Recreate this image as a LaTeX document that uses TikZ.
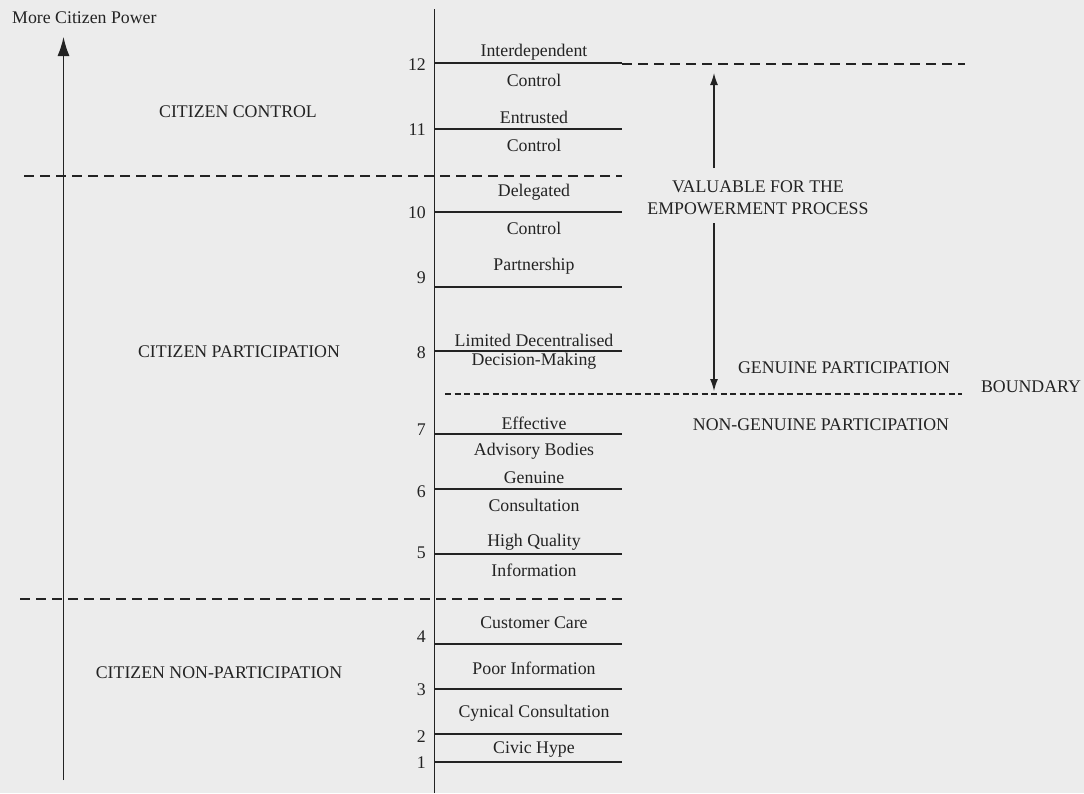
\documentclass[tikz,border=0pt]{standalone}
\usepackage{fontspec}
\setmainfont{Liberation Serif}
\usetikzlibrary{arrows.meta}
\definecolor{bgc}{RGB}{236,236,236}
\definecolor{ink}{RGB}{35,35,35}
\begin{document}
\begin{tikzpicture}[x=1pt,y=-1pt,
  txt/.style={font=\fontsize{17.8}{19}\selectfont, text=ink, inner sep=0pt},
  num/.style={txt, anchor=east},
  rung/.style={draw=ink, line width=1.3pt},
  axis/.style={draw=ink, line width=1.3pt},
  bigdash/.style={draw=ink, line width=1.2pt, dash pattern=on 10pt off 6pt},
  smalldash/.style={draw=ink, line width=1.2pt, dash pattern=on 6pt off 3.5pt},
  bigtip/.style={-{Latex[length=19pt,width=12pt]}},
  smalltip/.style={-{Latex[length=12pt,width=8pt]}}
]
\fill[bgc] (0,0) rectangle (1084,793);
\useasboundingbox (0,0) rectangle (1084,793);

% left axis
\coordinate (la0) at (63.5,780);
\coordinate (la1) at (63.5,37);
\draw[axis, bigtip] (la0) -- (la1);
\node[txt, anchor=west] (mcp) at (12,18) {More Citizen Power};

% central axis
\coordinate (ca0) at (434.5,793);
\coordinate (ca1) at (434.5,9);
\draw[axis] (ca0) -- (ca1);

% rungs
\foreach \n/\y in {12/63, 11/129, 10/212, 9/287, 8/351, 7/434, 6/489, 5/554, 4/644, 3/689, 2/734, 1/762}{
  \coordinate (r\n a) at (435,\y);
  \coordinate (r\n b) at (622,\y);
  \draw[rung] (r\n a) -- (r\n b);
}

% numbers
\node[num] (n12) at (426,65) {12};
\node[num] (n11) at (426,130) {11};
\node[num] (n10) at (426,213) {10};
\node[num] (n9) at (426,278) {9};
\node[num] (n8) at (426,353) {8};
\node[num] (n7) at (426,430) {7};
\node[num] (n6) at (426,492) {6};
\node[num] (n5) at (426,553) {5};
\node[num] (n4) at (426,637) {4};
\node[num] (n3) at (426,690) {3};
\node[num] (n2) at (426,737) {2};
\node[num] (n1) at (426,763) {1};

% rung labels
\node[txt] (l12a) at (534,52) {Interdependent};
\node[txt] (l12b) at (534,80) {Control};
\node[txt] (l11a) at (534,117) {Entrusted};
\node[txt] (l11b) at (534,145) {Control};
\node[txt] (l10a) at (534,192) {Delegated};
\node[txt] (l10b) at (534,228) {Control};
\node[txt] (l9) at (534,266) {Partnership};
\node[txt] (l8a) at (534,340) {Limited Decentralised};
\node[txt] (l8b) at (534,361) {Decision-Making};
\node[txt] (l7a) at (534,423) {Effective};
\node[txt] (l7b) at (534,451) {Advisory Bodies};
\node[txt] (l6a) at (534,478) {Genuine};
\node[txt] (l6b) at (534,505) {Consultation};
\node[txt] (l5a) at (534,542) {High Quality};
\node[txt] (l5b) at (534,570) {Information};
\node[txt] (l4) at (534,623) {Customer Care};
\node[txt] (l3) at (534,668) {Poor Information};
\node[txt] (l2) at (534,713) {Cynical Consultation};
\node[txt] (l1) at (534,750) {Civic Hype};

% zone labels
\node[txt] (cc) at (238,112) {CITIZEN CONTROL};
\node[txt] (cp) at (239,352) {CITIZEN PARTICIPATION};
\node[txt] (cnp) at (219,673) {CITIZEN NON-PARTICIPATION};

% dashed separators
\coordinate (d1a) at (24,176);  \coordinate (d1b) at (622,176);
\coordinate (d2a) at (20,599);  \coordinate (d2b) at (622,599);
\coordinate (d3a) at (622,64);  \coordinate (d3b) at (965,64);
\coordinate (d4a) at (445,394); \coordinate (d4b) at (962,394);
\draw[bigdash] (d1a) -- (d1b);
\draw[bigdash] (d2a) -- (d2b);
\draw[bigdash] (d3a) -- (d3b);
\draw[smalldash] (d4a) -- (d4b);

% right side
\node[txt, align=center] (val) at (758,198) {VALUABLE FOR THE\\[3pt]EMPOWERMENT PROCESS};
\coordinate (va0) at (714,73);
\coordinate (va1) at (714,391);
\coordinate (vt) at (714,168);
\coordinate (vb) at (714,223);
\draw[axis, smalltip] (vt) -- (va0);
\draw[axis, smalltip] (vb) -- (va1);
\node[txt] (gp) at (844,368) {GENUINE PARTICIPATION};
\node[txt] (bd) at (1031,387) {BOUNDARY};
\node[txt] (ngp) at (821,425) {NON-GENUINE PARTICIPATION};
\end{tikzpicture}
\end{document}
